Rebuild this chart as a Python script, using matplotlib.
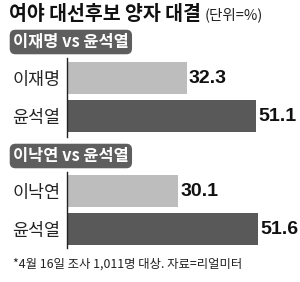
import matplotlib
matplotlib.use("Agg")
import matplotlib.pyplot as plt

plt.rcParams['font.family'] = ['Noto Sans CJK KR', 'DejaVu Sans']

# --- data ---
title = "여야 대선후보 양자 대결"
unit = "(단위=%)"
matchups = ["이재명 vs 윤석열", "이낙연 vs 윤석열"]
names_1 = ["이재명", "윤석열"]
values_1 = [32.3, 51.1]
names_2 = ["이낙연", "윤석열"]
values_2 = [30.1, 51.6]
note = "*4월 16일 조사 1,011명 대상. 자료=리얼미터"

light = "#bdbdbd"
dark = "#595959"
W, H = 300, 282

fig = plt.figure(figsize=(3.0, 2.82), dpi=100)
fig.patch.set_facecolor("white")


def px_axes(left, top, bottom, xmax=60):
    # pixel box -> figure fraction; 3.7 px per %
    width = xmax * 3.7
    return fig.add_axes([left / W, 1 - bottom / H, width / W, (bottom - top) / H])


def draw_pair(ax, names, values, ylim):
    ax.barh(range(len(values)), values, height=0.84, color=[light, dark])
    ax.set_xlim(0, 60)
    ax.set_ylim(*ylim)
    for s in ["top", "right", "bottom"]:
        ax.spines[s].set_visible(False)
    ax.spines["left"].set_linewidth(1.0)
    ax.spines["left"].set_color("#222222")
    ax.set_xticks([])
    ax.set_yticks(range(len(names)))
    ax.set_yticklabels(names, fontsize=12.5, color="#222222")
    ax.tick_params(axis="y", length=0, pad=5)
    for i, v in enumerate(values):
        ax.text(v + 0.6, i, f"{v:.1f}", va="center", ha="left",
                fontsize=14, fontweight="bold", color="#111111",
                family=["Liberation Sans Narrow", "Liberation Sans", "DejaVu Sans"])


ax1 = px_axes(67, 58, 137)
draw_pair(ax1, names_1, values_1, (1.55, -0.53))

ax2 = px_axes(67, 172, 248)
draw_pair(ax2, names_2, values_2, (1.49, -0.51))

# title and unit
fig.text(9 / W, 1 - 14 / H, title, fontsize=14, fontweight="bold",
         va="center", ha="left", color="#111111")
fig.text(205 / W, 1 - 15 / H, unit, fontsize=10.5, va="center", ha="left",
         color="#222222")

# matchup badges
for y, label in zip([42, 156], matchups):
    fig.text(13 / W, 1 - y / H, label, fontsize=11.8, fontweight="bold",
             color="white", va="center", ha="left",
             bbox=dict(boxstyle="round,pad=0.2,rounding_size=0.35",
                       facecolor="#5e5e5e", edgecolor="none"))

fig.text(13 / W, 1 - 264 / H, note, fontsize=8.9, va="center", ha="left",
         color="#222222")

plt.savefig("out.png", dpi=100)
plt.close(fig)
